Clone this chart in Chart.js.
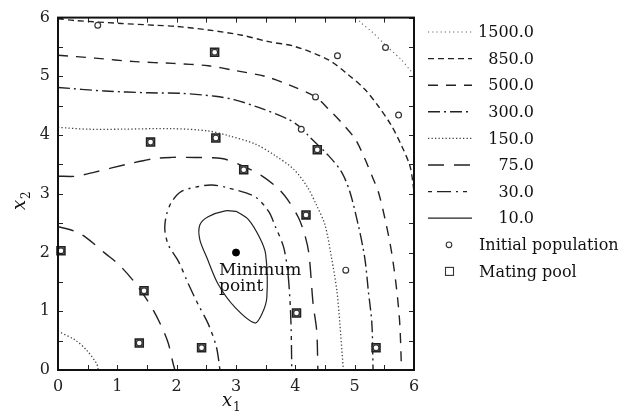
<!DOCTYPE html>
<html>
<head>
<meta charset="utf-8">
<script src="https://cdn.jsdelivr.net/npm/chart.js@4.4.0/dist/chart.umd.min.js"></script>
<style>
  html, body { margin: 0; padding: 0; background: #fff; }
  #wrap { width: 627px; height: 415px; }
</style>
</head>
<body>
<div id="wrap"><canvas id="grafico"></canvas></div>
<script>
// Curvas de nível (x1, x2)
const level1500 = [[5.03, 6.0], [5.12, 5.9], [5.29, 5.76], [5.52, 5.53], [5.79, 5.28], [5.93, 5.11], [6.0, 5.04]];
const level850 = [[0, 5.98], [0.29, 5.95], [1.07, 5.9], [1.63, 5.87], [1.99, 5.85], [2.53, 5.79], [3.1, 5.7], [3.55, 5.59],
  [3.99, 5.51], [4.56, 5.28], [4.89, 5.03], [5.17, 4.78], [5.4, 4.49], [5.62, 4.16], [5.79, 3.82], [5.93, 3.48], [5.98, 3.2], [6.0, 3.02]];
const level500 = [[0, 5.36], [0.62, 5.31], [1.3, 5.25], [1.94, 5.22], [2.53, 5.18], [2.98, 5.1], [3.49, 5.0], [3.88, 4.86],
  [4.34, 4.65], [4.56, 4.44], [4.78, 4.21], [5.01, 3.93], [5.17, 3.6], [5.31, 3.26], [5.4, 3.03], [5.51, 2.58],
  [5.62, 2.02], [5.71, 1.35], [5.76, 0.79], [5.79, 0]];
const level300 = [[0, 4.81], [0.79, 4.75], [1.52, 4.72], [2.08, 4.71], [2.65, 4.66], [2.98, 4.6], [3.38, 4.47], [3.88, 4.27],
  [4.1, 4.12], [4.22, 3.99], [4.56, 3.65], [4.78, 3.37], [4.92, 3.03], [5.06, 2.47], [5.17, 1.91], [5.23, 1.35],
  [5.29, 0.79], [5.31, 0]];
const level150 = [[0, 4.13], [0.51, 4.1], [1.07, 4.1], [1.92, 4.11], [2.53, 4.07], [2.87, 3.99], [3.32, 3.85], [3.66, 3.65],
  [3.97, 3.42], [4.2, 3.12], [4.36, 2.8], [4.5, 2.47], [4.61, 1.91], [4.7, 1.35], [4.75, 0.79], [4.81, 0]];
const level150b = [[0, 0.66], [0.29, 0.51], [0.48, 0.34], [0.65, 0.11], [0.68, 0]];
const level75 = [[0, 3.3], [0.3, 3.3], [0.62, 3.37], [1.19, 3.51], [1.63, 3.6], [1.92, 3.62], [2.14, 3.62], [2.76, 3.6],
  [3.1, 3.48], [3.43, 3.31], [3.71, 3.09], [3.87, 2.9], [4.05, 2.6], [4.16, 2.3], [4.23, 1.97], [4.3, 1.12],
  [4.36, 0.67], [4.38, 0]];
const level75b = [[0, 2.44], [0.29, 2.36], [0.48, 2.25], [0.79, 1.99], [1.02, 1.8], [1.27, 1.52], [1.47, 1.24], [1.61, 1.01],
  [1.75, 0.73], [1.86, 0.45], [1.94, 0.11], [1.97, 0]];
const level30 = [[2.73, 0], [2.67, 0.39], [2.53, 0.79], [2.36, 1.12], [2.2, 1.46], [2.03, 1.85], [1.86, 2.13], [1.8, 2.4],
  [1.83, 2.65], [1.92, 2.87], [2.08, 3.04], [2.35, 3.12], [2.59, 3.15], [2.87, 3.1], [3.32, 2.95], [3.55, 2.7],
  [3.66, 2.45], [3.8, 2.1], [3.87, 1.7], [3.91, 1.18], [3.93, 0.67], [3.94, 0]];
const level10 = [[3.01, 2.7], [2.82, 2.71], [2.53, 2.61], [2.39, 2.47], [2.39, 2.22], [2.51, 1.91], [2.7, 1.46], [2.98, 1.07],
  [3.32, 0.8], [3.44, 0.96], [3.52, 1.24], [3.5, 1.97], [3.4, 2.25], [3.21, 2.56], [3.01, 2.7]];

// Níveis da legenda
const levels = [1500, 850, 500, 300, 150, 75, 30, 10];

// População inicial e mating pool
const popX = [0.67, 4.71, 5.52, 4.34, 5.74, 4.1, 4.85, 2.64, 1.56, 2.66, 3.13, 4.37, 4.18, 0.05, 1.45, 1.37, 2.42, 4.02, 5.36];
const popY = [5.87, 5.35, 5.49, 4.65, 4.34, 4.1, 1.7, 5.41, 3.88, 3.95, 3.41, 3.75, 2.64, 2.03, 1.35, 0.46, 0.38, 0.97, 0.38];
const poolX = [2.64, 1.56, 2.66, 3.13, 4.37, 4.18, 0.05, 1.45, 1.37, 2.42, 4.02, 5.36];
const poolY = [5.41, 3.88, 3.95, 3.41, 3.75, 2.64, 2.03, 1.35, 0.46, 0.38, 0.97, 0.38];
const minX = [3];
const minY = [2];

const axisMin = 0, axisMax = 6;

const FONTE = '"DejaVu Serif", "Liberation Serif", serif';
const COR = '#222';

// estilo de cada nível
const estilos = {
  1500: { dash: [1.2, 3], width: 1.1, color: '#666' },
  850: { dash: [6, 4], width: 1.4, color: COR },
  500: { dash: [10, 8], width: 1.4, color: COR },
  300: { dash: [12, 4, 2, 4], width: 1.4, color: COR },
  150: { dash: [1.3, 2.2], width: 1.3, color: '#444' },
  75: { dash: [16, 10], width: 1.4, color: COR },
  30: { dash: [4, 5, 14, 5, 2, 5], width: 1.4, color: COR },
  10: { dash: [], width: 1.2, color: COR }
};

function pontos(arr) {
  return arr.map(p => ({ x: p[0], y: p[1] }));
}

function curva(nivel, arr) {
  const e = estilos[nivel];
  return {
    type: 'line',
    data: pontos(arr),
    showLine: true,
    borderColor: e.color,
    borderWidth: e.width,
    borderDash: e.dash,
    pointRadius: 0,
    tension: 0.3,
    fill: false,
    order: 3
  };
}

const datasets = [
  curva(1500, level1500),
  curva(850, level850),
  curva(500, level500),
  curva(300, level300),
  curva(150, level150),
  curva(150, level150b),
  curva(75, level75),
  curva(75, level75b),
  curva(30, level30),
  curva(10, level10),
  {
    data: poolX.map((x, i) => ({ x: x, y: poolY[i] })),
    pointStyle: 'rect',
    pointRadius: 5.6,
    backgroundColor: '#888',
    borderColor: '#222',
    borderWidth: 1.6,
    clip: false,
    order: 2
  },
  {
    data: popX.map((x, i) => ({ x: x, y: popY[i] })),
    pointStyle: 'circle',
    pointRadius: 2.9,
    backgroundColor: '#fff',
    borderColor: '#333',
    borderWidth: 1.2,
    clip: false,
    order: 1
  },
  {
    data: minX.map((x, i) => ({ x: x, y: minY[i] })),
    pointStyle: 'circle',
    pointRadius: 3.5,
    backgroundColor: '#000',
    borderColor: '#000',
    borderWidth: 1,
    order: 0
  }
];

// moldura, ticks internos, títulos, rótulo do mínimo e legenda
const extras = {
  id: 'extras',
  afterDraw(chart) {
    const ctx = chart.ctx;
    const a = chart.chartArea;
    const sx = chart.scales.x, sy = chart.scales.y;
    ctx.save();

    // ticks para dentro nos quatro lados
    ctx.strokeStyle = '#222';
    ctx.lineWidth = 1;
    ctx.setLineDash([]);
    for (let v = axisMin; v <= axisMax; v += 0.5) {
      const len = 5;
      const px = Math.round(sx.getPixelForValue(v)) + 0.5;
      const py = Math.round(sy.getPixelForValue(v)) + 0.5;
      ctx.beginPath();
      ctx.moveTo(px, a.bottom); ctx.lineTo(px, a.bottom - len);
      ctx.moveTo(px, a.top); ctx.lineTo(px, a.top + len);
      ctx.moveTo(a.left, py); ctx.lineTo(a.left + len, py);
      ctx.moveTo(a.right, py); ctx.lineTo(a.right - len, py);
      ctx.stroke();
    }

    // moldura
    ctx.lineWidth = 2;
    ctx.strokeStyle = '#111';
    ctx.strokeRect(a.left, a.top, a.right - a.left, a.bottom - a.top);

    // rótulo do ponto mínimo
    ctx.fillStyle = '#111';
    ctx.font = '17px ' + FONTE;
    ctx.textAlign = 'left';
    ctx.textBaseline = 'alphabetic';
    const mx = sx.getPixelForValue(minX[0]);
    const my = sy.getPixelForValue(minY[0]);
    ctx.fillText('Minimum', mx - 17, my + 22);
    ctx.fillText('point', mx - 17, my + 38);

    // título do eixo x
    ctx.font = 'italic 18px ' + FONTE;
    ctx.fillText('x', 222, 406);
    ctx.font = '12px ' + FONTE;
    ctx.fillText('1', 233, 411);

    // título do eixo y
    ctx.save();
    ctx.translate(25, 210);
    ctx.rotate(-Math.PI / 2);
    ctx.font = 'italic 18px ' + FONTE;
    ctx.fillText('x', 0, 0);
    ctx.font = '12px ' + FONTE;
    ctx.fillText('2', 11, 5);
    ctx.restore();

    // legenda
    const lx0 = 428, lx1 = 472, tx = 534, y0 = 32, dy = 26.6;
    ctx.font = '16px ' + FONTE;
    ctx.textBaseline = 'middle';
    levels.forEach((lv, i) => {
      const e = estilos[lv];
      const y = y0 + i * dy;
      ctx.beginPath();
      ctx.strokeStyle = e.color;
      ctx.lineWidth = e.width;
      ctx.setLineDash(e.dash);
      ctx.moveTo(lx0, y); ctx.lineTo(lx1, y);
      ctx.stroke();
      ctx.setLineDash([]);
      ctx.textAlign = 'right';
      ctx.fillStyle = '#111';
      ctx.fillText(lv.toFixed(1), tx, y + 1);
    });
    const yPop = y0 + 8 * dy, yPool = y0 + 9 * dy;
    ctx.strokeStyle = '#333';
    ctx.lineWidth = 1.1;
    ctx.beginPath();
    ctx.arc(449, yPop, 2.8, 0, Math.PI * 2);
    ctx.stroke();
    ctx.strokeRect(445.5, yPool - 4, 8, 8);
    ctx.textAlign = 'left';
    ctx.fillText('Initial population', 479, yPop + 1);
    ctx.fillText('Mating pool', 479, yPool + 1);

    ctx.restore();
  }
};

new Chart(document.getElementById('grafico'), {
  type: 'scatter',
  data: { datasets: datasets },
  plugins: [extras],
  options: {
    responsive: true,
    maintainAspectRatio: false,
    animation: false,
    layout: { padding: { top: 14, right: 213, bottom: 0, left: 0 } },
    plugins: {
      legend: { display: false },
      tooltip: { enabled: false }
    },
    scales: {
      x: {
        type: 'linear',
        min: axisMin,
        max: axisMax,
        grid: { display: false, drawTicks: false },
        border: { display: false },
        ticks: { stepSize: 1, padding: 7, color: '#222', font: { family: FONTE, size: 16 } },
        afterFit(scale) { scale.height = 45; }
      },
      y: {
        type: 'linear',
        min: axisMin,
        max: axisMax,
        grid: { display: false, drawTicks: false },
        border: { display: false },
        ticks: { stepSize: 1, padding: 8, color: '#222', font: { family: FONTE, size: 16 } },
        afterFit(scale) { scale.width = 58; }
      }
    }
  }
});
</script>
</body>
</html>
